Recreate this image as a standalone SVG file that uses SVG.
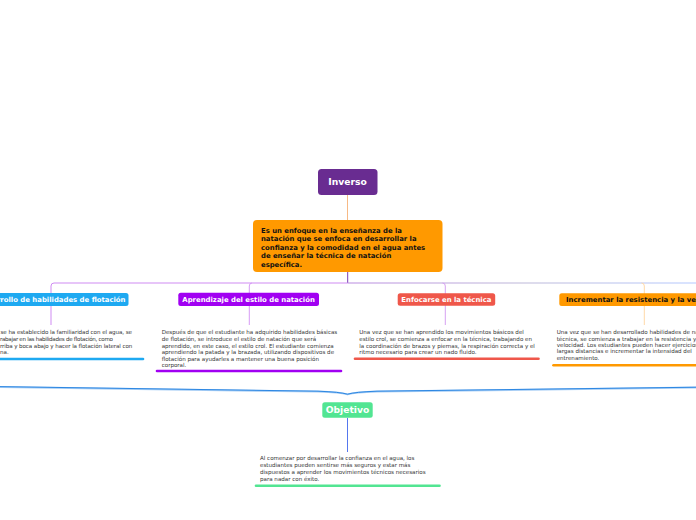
<svg xmlns="http://www.w3.org/2000/svg" width="696" height="520" viewBox="0 0 696 520">
<style>
.ttl{font-family:"DejaVu Sans",Verdana,sans-serif;font-weight:bold;font-size:6.9px;}
.big{font-family:"DejaVu Sans",Verdana,sans-serif;font-weight:bold;font-size:9.2px;fill:#fff;}
.body{font-family:"DejaVu Sans",Verdana,sans-serif;font-size:5.55px;fill:#333;}
.main{font-family:"DejaVu Sans",Verdana,sans-serif;font-weight:bold;font-size:6.85px;fill:#111;}
.ul{stroke-width:2.6;stroke-linecap:round;fill:none;}
.c{fill:none;stroke-width:1;}
</style>
<defs>
<linearGradient id="gR" x1="348" y1="0" x2="696" y2="0" gradientUnits="userSpaceOnUse">
<stop offset="0" stop-color="#B98AE0"/>
<stop offset="0.5" stop-color="#BDB8D8"/>
<stop offset="1" stop-color="#B3C8FF"/>
</linearGradient>
</defs>
<rect width="696" height="520" fill="#fff"/>
<g id="connectors">
<line class="c" x1="347.5" y1="195" x2="347.5" y2="220" stroke="#F7B985"/>
<path class="c" d="M347.7,272 V283" stroke="#7A3DB5" stroke-width="1.6"/>
<path class="c" d="M347.7,283 H54 Q51,283 51,286 V325" stroke="#CF8BF2"/>
<path class="c" d="M252,283 Q249.3,283 249.3,286 V325" stroke="#D89CF6"/>
<path class="c" d="M347.7,283 H696" stroke="url(#gR)"/>
<path class="c" d="M442.5,283 Q445.3,283 445.3,286 V325" stroke="#D6A2F2"/>
<path class="c" d="M641.5,283 Q644.3,283 644.3,286 V325" stroke="#FFD9A8"/>
<path d="M-2,387 L318,391.6 Q340,392.4 347.5,394.4 Q355,392.4 377,391.6 L698,387.6" fill="none" stroke="#A6CDF5" stroke-width="2"/>
<path d="M-2,386.6 L318,391.2 Q340,392 347.5,394.2 Q355,392 377,391.2 L698,387.2" fill="none" stroke="#1F7FE0" stroke-width="0.9"/>
<line class="c" x1="347.5" y1="418" x2="347.5" y2="452" stroke="#5577EE"/>
</g>
<g id="inverso">
<rect x="318" y="169" width="59.5" height="26" rx="3.5" fill="#692C91"/>
<text class="big" x="347.5" y="185.3" text-anchor="middle">Inverso</text>
</g>
<g id="definicion">
<rect x="253" y="220" width="189.5" height="52" rx="4" fill="#FF9900"/>
<text class="main" x="261" y="232.5">Es un enfoque en la enseñanza de la</text>
<text class="main" x="261" y="241">natación que se enfoca en desarrollar la</text>
<text class="main" x="261" y="249.5">confianza y la comodidad en el agua antes</text>
<text class="main" x="261" y="258">de enseñar la técnica de natación</text>
<text class="main" x="261" y="266.5">específica.</text>
</g>
<g id="desarrollo">
<rect x="-20" y="293" width="148.5" height="13" rx="2.5" fill="#1EA9F1"/>
<text class="ttl" x="125.5" y="302" text-anchor="end" fill="#fff">rrollo de habilidades de flotación</text>
<text class="body" x="0.5" y="334.3" textLength="131.5" lengthAdjust="spacing">se ha establecido la familiaridad con el agua, se</text>
<text class="body" x="0" y="340.9" textLength="113" lengthAdjust="spacing">rabajar en las habilidades de flotación, como</text>
<text class="body" x="0" y="347.5" textLength="132.3" lengthAdjust="spacing">rriba y boca abajo y hacer la flotación lateral con</text>
<text class="body" x="0" y="354.1">na.</text>
<line class="ul" x1="-5" y1="359" x2="143" y2="359" stroke="#1EA9F1"/>
</g>
<g id="aprendizaje">
<rect x="178.3" y="292.8" width="140.7" height="13.2" rx="2.5" fill="#A100F2"/>
<text class="ttl" x="248.6" y="302" text-anchor="middle" fill="#fff">Aprendizaje del estilo de natación</text>
<text class="body" x="161.7" y="334.3">Después de que el estudiante ha adquirido habilidades básicas</text>
<text class="body" x="161.7" y="340.9">de flotación, se introduce el estilo de natación que será</text>
<text class="body" x="161.7" y="347.5">aprendido, en este caso, el estilo crol. El estudiante comienza</text>
<text class="body" x="161.7" y="354.1">aprendiendo la patada y la brazada, utilizando dispositivos de</text>
<text class="body" x="161.7" y="360.7">flotación para ayudarles a mantener una buena posición</text>
<text class="body" x="161.7" y="367.3">corporal.</text>
<line class="ul" x1="157" y1="371" x2="341" y2="371" stroke="#A100F2"/>
</g>
<g id="enfocarse">
<rect x="397.7" y="293.2" width="97.5" height="12.6" rx="2.5" fill="#EF574A"/>
<text class="ttl" x="446.4" y="302" text-anchor="middle" fill="#fff">Enfocarse en la técnica</text>
<text class="body" x="359.3" y="334.3">Una vez que se han aprendido los movimientos básicos del</text>
<text class="body" x="359.3" y="340.9">estilo crol, se comienza a enfocar en la técnica, trabajando en</text>
<text class="body" x="359.3" y="347.5">la coordinación de brazos y piernas, la respiración correcta y el</text>
<text class="body" x="359.3" y="354.1">ritmo necesario para crear un nado fluido.</text>
<line class="ul" x1="355" y1="358.7" x2="538.5" y2="358.7" stroke="#EF574A"/>
</g>
<g id="incrementar">
<rect x="559.3" y="293.2" width="150" height="12.8" rx="2.5" fill="#FF9900"/>
<text class="ttl" x="566" y="302" fill="#111">Incrementar la resistencia y la velocidad</text>
<text class="body" x="556.7" y="334.3">Una vez que se han desarrollado habilidades de natación y</text>
<text class="body" x="556.7" y="340.6">técnica, se comienza a trabajar en la resistencia y la</text>
<text class="body" x="556.7" y="346.9">velocidad. Los estudiantes pueden hacer ejercicios de</text>
<text class="body" x="556.7" y="353.2">largas distancias e incrementar la intensidad del</text>
<text class="body" x="556.7" y="359.5">entrenamiento.</text>
<line class="ul" x1="553.5" y1="365.3" x2="700" y2="365.3" stroke="#FF9900"/>
</g>
<g id="objetivo">
<rect x="322.3" y="402.3" width="50.4" height="15.4" rx="2.5" fill="#52E592"/>
<text class="big" x="347.5" y="413.4" text-anchor="middle">Objetivo</text>
<text class="body" x="260" y="460.4">Al comenzar por desarrollar la confianza en el agua, los</text>
<text class="body" x="260" y="467.1">estudiantes pueden sentirse más seguros y estar más</text>
<text class="body" x="260" y="473.8">dispuestos a aprender los movimientos técnicos necesarios</text>
<text class="body" x="260" y="480.5">para nadar con éxito.</text>
<line class="ul" x1="256" y1="485.7" x2="439.5" y2="485.7" stroke="#52E592"/>
</g>
</svg>
